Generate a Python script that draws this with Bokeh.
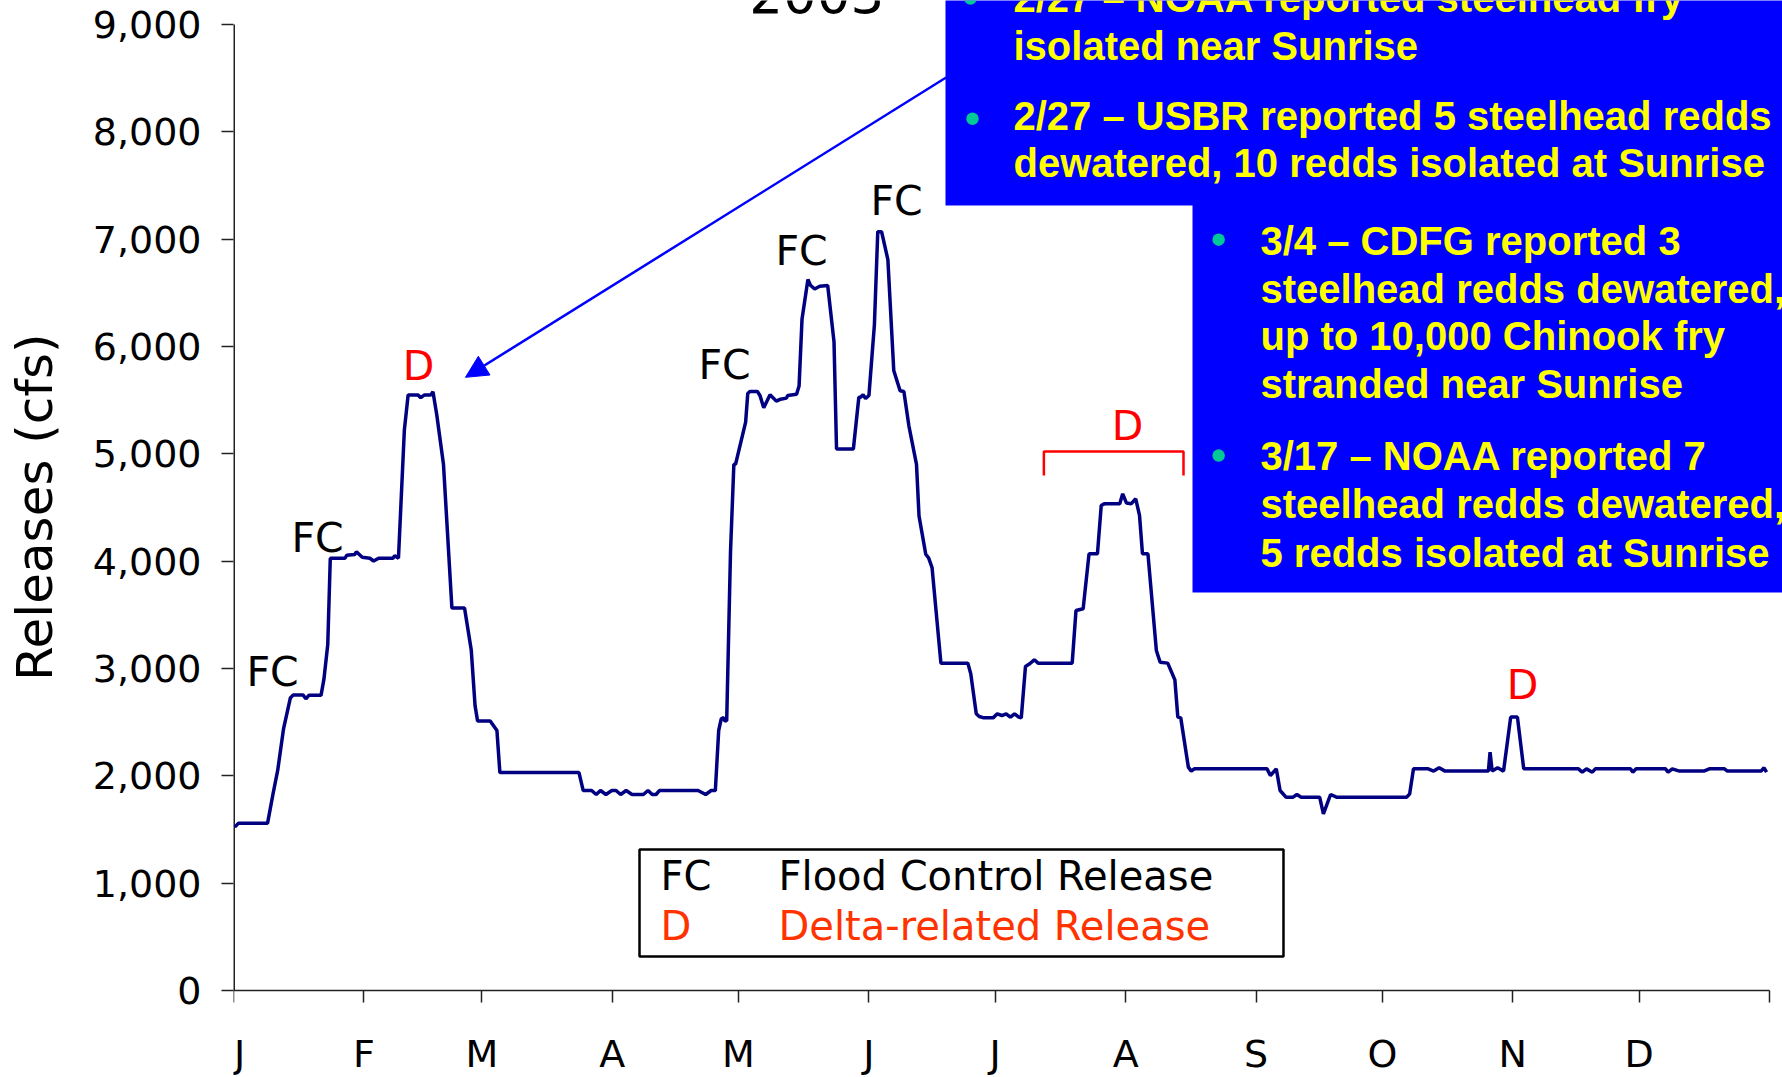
from bokeh.plotting import figure
from bokeh.models import Range1d, FixedTicker, Arrow, NormalHead
from bokeh.core.properties import value
from bokeh.embed import file_html
from bokeh.resources import INLINE

# ---------------- data ----------------
months = ["J", "F", "M", "A", "M", "J", "J", "A", "S", "O", "N", "D"]
month_start_day = [0, 31, 59, 90, 120, 151, 181, 212, 243, 273, 304, 334]
year_end_day = 365
y_ticks = [0, 1000, 2000, 3000, 4000, 5000, 6000, 7000, 8000, 9000]
y_tick_labels = ["0", "1,000", "2,000", "3,000", "4,000", "5,000", "6,000", "7,000", "8,000", "9,000"]

# daily releases 2003 (day of year, cfs)
days = [0.3, 1.2, 8.1, 9.4, 10.5, 11.9, 13.5, 14.2, 16.5, 17.2, 17.9, 20.8, 21.5, 22.4, 23.0,
        26.5, 26.9, 28.8, 29.2, 30.6, 32.4, 33.3, 34.5, 37.9, 38.3, 39.2, 40.6, 41.5, 43.8,
        44.5, 45.4, 46.9, 47.4, 48.3, 49.9, 51.9, 54.9, 56.5, 57.4, 58.0, 61.0, 62.6, 63.3,
        82.1, 83.1, 85.1, 86.2, 87.2, 88.5, 89.9, 90.9, 92.0, 93.3, 94.7, 97.4, 98.5, 99.5,
        100.4, 101.2, 110.4, 112.2, 113.5, 114.5, 115.3, 115.9, 116.5, 116.7, 117.2, 118.1,
        118.9, 119.3, 121.7, 122.2, 122.7, 124.5, 125.1, 126.0, 127.5, 129.0, 130.0, 131.4,
        131.7, 133.8, 134.4, 135.1, 136.5, 137.1, 138.1, 139.3, 141.2, 142.7, 143.3, 147.3,
        148.6, 149.0, 149.6, 150.2, 151.0, 152.3, 153.1, 154.0, 155.5, 156.9, 158.4, 159.3,
        160.5, 162.3, 162.9, 164.5, 165.2, 166.0, 168.1, 174.5, 175.2, 176.5, 177.2, 178.3,
        180.5, 181.5, 182.6, 183.6, 184.6, 185.6, 186.6, 187.2, 188.2, 189.2, 190.3, 191.2,
        199.3, 200.2, 201.9, 203.3, 205.3, 206.2, 206.9, 210.6, 211.3, 212.2, 213.3, 214.4,
        215.3, 216.0, 217.3, 219.3, 220.2, 222.0, 223.7, 224.4, 225.1, 226.9, 227.6, 228.3,
        245.6, 246.4, 247.8, 248.7, 250.1, 251.8, 252.7, 253.7, 258.1, 259.0, 260.7, 262.1,
        278.8, 279.5, 280.4, 283.9, 285.2, 286.5, 287.9, 298.2, 298.6, 299.1, 300.4, 301.8,
        303.5, 305.1, 306.6, 319.6, 320.5, 321.5, 322.9, 323.6, 332.0, 332.5, 333.3, 340.3,
        340.9, 341.9, 343.6, 349.4, 350.7, 354.3, 355.0, 363.0, 363.7, 364.3]
cfs = [1522, 1559, 1559, 1833, 2050, 2440, 2725, 2754, 2754, 2718, 2750, 2750, 2903, 3224, 4027,
       4027, 4055, 4062, 4087, 4037, 4027, 4002, 4027, 4027, 4052, 4027, 5221, 5549, 5549,
       5524, 5549, 5549, 5578, 5364, 4900, 3563, 3563, 3171, 2654, 2511, 2511, 2422, 2030,
       2030, 1863, 1863, 1826, 1863, 1826, 1863, 1863, 1826, 1863, 1826, 1826, 1863, 1826,
       1826, 1863, 1863, 1826, 1863, 1863, 2424, 2531, 2542, 2514, 2514, 4082,
       4902, 4902, 5295, 5562, 5580, 5580, 5544, 5430, 5551, 5491, 5509, 5519,
       5544, 5555, 5633, 6257, 6625, 6571, 6536, 6561, 6568, 6043, 5045, 5045,
       5527, 5527, 5551, 5516, 5544, 6204, 7070, 7070, 6810, 5776, 5587, 5580,
       5259, 4902, 4421, 4065, 4029, 3940, 3050, 3050, 2950, 2578, 2553, 2540,
       2540, 2578, 2562, 2578, 2547, 2578, 2547, 2540, 3019, 3044, 3081, 3050,
       3050, 3540, 3556, 4068, 4068, 4519, 4534, 4534, 4627, 4541, 4534, 4581,
       4426, 4068, 4068, 3168, 3059, 3050, 2894, 2547, 2540, 2081, 2044, 2065,
       2065, 2003, 2065, 1863, 1801, 1801, 1826, 1801, 1801, 1646, 1826, 1801,
       1801, 1832, 2065, 2065, 2044, 2075, 2044, 2044, 2221, 2044, 2075, 2044,
       2547, 2547, 2065, 2065, 2034, 2065, 2034, 2065, 2065, 2034, 2065, 2065,
       2034, 2065, 2044, 2044, 2065, 2065, 2044, 2044, 2075, 2034]

title_text = "2003"
y_axis_title = "Releases (cfs)"
fc_text = ["FC", "FC", "FC", "FC", "FC"]
d_text = ["D", "D", "D"]
legend_codes = ["FC", "D"]
legend_names = ["Flood Control Release", "Delta-related Release"]
note_lines_top = ["2/27 \u2013 NOAA reported steelhead fry",
                  "isolated near Sunrise",
                  "2/27 \u2013 USBR reported 5 steelhead redds",
                  "dewatered, 10 redds isolated at Sunrise"]
note_lines_side = ["3/4 \u2013 CDFG reported 3",
                   "steelhead redds dewatered,",
                   "up to 10,000 Chinook fry",
                   "stranded near Sunrise",
                   "3/17 \u2013 NOAA reported 7",
                   "steelhead redds dewatered,",
                   "5 redds isolated at Sunrise"]

# ---------------- annotation placement (data units, text centres) ----------------
fc_x = [9.27, 19.96, 116.68, 134.97, 157.55]
fc_y = [2972, 4216, 5823, 6894, 7351]
d_x = [43.96, 212.44, 306.31]
d_y = [5814, 5255, 2842]
bracket_x = [192.57, 192.57, 225.75, 225.75]
bracket_y = [4798, 5022, 5022, 4798]

FONT = value("DejaVu Sans")
BOLD = value("Liberation Sans")

p = figure(width=1782, height=1077,
           x_range=Range1d(0, 368.09), y_range=Range1d(-810.6, 9223.6),
           output_backend="svg", toolbar_location=None,
           min_border_left=233, min_border_right=0, min_border_top=0,
           min_border_bottom=0)
p.grid.visible = False
p.outline_line_color = None
p.background_fill_color = "white"
p.border_fill_color = "white"

# axes
for ax in (p.xaxis[0], p.yaxis[0]):
    ax.axis_line_color = None
    ax.major_tick_out = 12
    ax.major_tick_in = 0
    ax.major_tick_line_color = "#222222"
    ax.major_tick_line_width = 1.5
    ax.minor_tick_line_color = None
    ax.major_label_text_font = "DejaVu Sans"
    ax.major_label_text_color = "black"

p.xaxis.fixed_location = 0
p.xaxis.ticker = FixedTicker(ticks=month_start_day + [year_end_day])
ov = {d: m for d, m in zip(month_start_day, months)}
ov[month_start_day[0]] = "\u00a0" + months[0]   # keep the first J's hook inside the frame
ov[year_end_day] = ""
p.xaxis.major_label_overrides = ov
p.xaxis.major_label_text_font_size = "38px"
p.xaxis.major_label_standoff = 30

p.yaxis.ticker = FixedTicker(ticks=y_ticks)
p.yaxis.major_label_overrides = {t: s for t, s in zip(y_ticks, y_tick_labels)}
p.yaxis.major_label_text_font_size = "38px"
p.yaxis.major_label_standoff = 20
# leading no-break spaces lift the centred title to the reference height
p.yaxis.axis_label = "\u00a0\u00a0\u00a0\u00a0" + y_axis_title
p.yaxis.axis_label_text_font = "DejaVu Sans"
p.yaxis.axis_label_text_font_style = "normal"
p.yaxis.axis_label_text_font_size = "50px"
p.yaxis.axis_label_text_color = "black"
p.yaxis.axis_label_standoff = 26

# axis lines limited to the data extent
p.segment(x0=[0, 0], y0=[0, 0], x1=[year_end_day, 0], y1=[0, y_ticks[-1]],
          line_color="#222222", line_width=[1.5, 3])

# release series
p.line(days, cfs, line_color="#000080", line_width=3.5)

# legend box
p.quad(left=[96.48], right=[249.51], bottom=[317], top=[1314],
       fill_color="white", line_color="black", line_width=2.5)
p.text(x=[101.47, 101.47], y=[1071, 601], text=legend_codes,
       text_color=["black", "#FF3300"], text_font=FONT, text_font_size="40px",
       text_align="left", text_baseline="middle")
p.text(x=[129.51, 129.51], y=[1071, 601], text=legend_names,
       text_color=["black", "#FF3300"], text_font=FONT, text_font_size="40px",
       text_align="left", text_baseline="middle")

# FC / D labels
p.text(x=fc_x, y=fc_y, text=fc_text, text_color="black", text_font=FONT,
       text_font_size="41px", text_align="center", text_baseline="middle")
p.text(x=d_x, y=d_y, text=d_text, text_color="#FF0000", text_font=FONT,
       text_font_size="41px", text_align="center", text_baseline="middle")
p.line(bracket_x, bracket_y, line_color="#FF0000", line_width=2.5)

# title (cut at top)
p.text(x=[138.6], y=[9292], text=[title_text], text_color="black", text_font=FONT,
       text_font_size="53px", text_align="center", text_baseline="middle")

# blue note boxes
p.quad(left=[169.19, 227.89], right=[372, 372], bottom=[7314, 3708], top=[9600, 7330],
       fill_color="#0000FF", line_color=None)
p.text(x=[185.35] * 4, y=[9245, 8798, 8146, 7708], text=note_lines_top,
       text_color="#FFFF00", text_font=BOLD, text_font_style="bold",
       text_font_size="40px", text_align="left", text_baseline="middle")
p.text(x=[244.05] * 7, y=[6981, 6534, 6096, 5649, 4978, 4531, 4074], text=note_lines_side,
       text_color="#FFFF00", text_font=BOLD, text_font_style="bold",
       text_font_size="40px", text_align="left", text_baseline="middle")
p.scatter(x=[175.13, 175.6, 234.1, 234.1], y=[9242, 8122, 6995, 4984],
          marker="circle", size=12.5, fill_color="#00C896", line_color=None)

# arrow from note box to February peak
p.add_layout(Arrow(end=NormalHead(size=22, fill_color="#0000FF", line_color="#0000FF"),
                   x_start=169.34, y_start=8506, x_end=55.13, y_end=5713,
                   line_color="#0000FF", line_width=2.5))

open("out.html", "w").write(file_html(p, INLINE))
